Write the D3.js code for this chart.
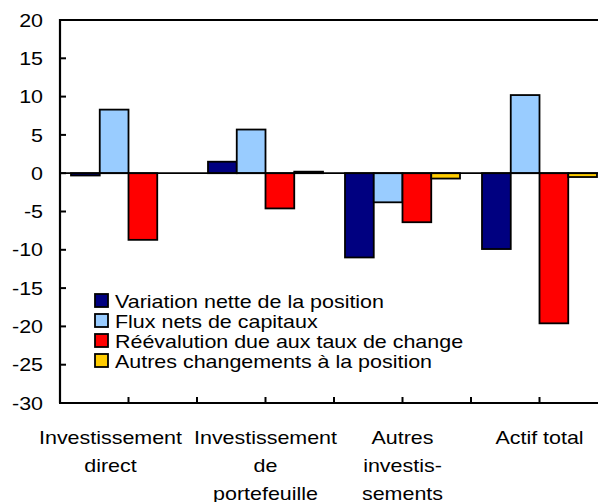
<!DOCTYPE html>
<html>
<head>
<meta charset="utf-8">
<script src="https://cdn.jsdelivr.net/npm/d3@7"></script>
<style>
  body { margin: 0; background: #fff; }
  text { font-family: "Liberation Sans", Arial, sans-serif; fill: #000; font-size: 18.5px; }
</style>
</head>
<body>
<svg id="chart" width="598" height="502"></svg>
<script>
// categories (each label split into lines) and series
var categories = ["Investissement direct", "Investissement de portefeuille", "Autres investissements", "Actif total"]
var catLines = [["Investissement", "direct"], ["Investissement", "de", "portefeuille"], ["Autres", "investis-", "sements"], ["Actif total"]]
var seriesNames = ["Variation nette de la position", "Flux nets de capitaux", "Réévalution due aux taux de change", "Autres changements à la position"]
var colors = ["#000080", "#99CCFF", "#FF0000", "#FFCC00"]

var variationNette = [-0.3, 1.5, -11.0, -9.9]
var fluxNets = [8.3, 5.7, -3.8, 10.2]
var reevaluation = [-8.7, -4.6, -6.4, -19.6]
var autresChangements = [0, 0.2, -0.7, -0.5]
var yTicks = [20, 15, 10, 5, 0, -5, -10, -15, -20, -25, -30]

var series = [variationNette, fluxNets, reevaluation, autresChangements]

var svg = d3.select("#chart")
var plotLeft = 60, plotRight = 608, plotTop = 20, plotBottom = 403
var sx = 1.16   // the reference font is drawn a bit wider than Arial

var y = d3.scaleLinear().domain([-30, 20]).range([plotBottom, plotTop])
var x0 = d3.scaleBand().domain(categories).range([plotLeft, plotRight]).paddingInner(0).paddingOuter(0)
var x1 = d3.scaleBand().domain(d3.range(4)).range([11, x0.bandwidth() - 11]).padding(0)

// bars
var groups = svg.selectAll("g.cat")
    .data(categories)
    .enter().append("g")
    .attr("class", "cat")
    .attr("transform", function(d) { return "translate(" + x0(d) + ",0)" })

groups.selectAll("rect")
    .data(function(d, ci) { return series.map(function(s, si) { return { si: si, v: s[ci] } }) })
    .enter().append("rect")
    .attr("x", function(d) { return x1(d.si) })
    .attr("width", x1.bandwidth())
    .attr("y", function(d) { return y(Math.max(0, d.v)) })
    .attr("height", function(d) { return Math.abs(y(d.v) - y(0)) })
    .style("fill", function(d) { return colors[d.si] })
    .style("stroke", "#000")
    .style("stroke-width", 1.8)
    .style("display", function(d) { return d.v == 0 ? "none" : null })

// zero line
svg.append("line")
    .attr("x1", plotLeft).attr("x2", plotRight)
    .attr("y1", y(0)).attr("y2", y(0))
    .style("stroke", "#000").style("stroke-width", 1.8)

// top frame line
svg.append("line")
    .attr("x1", plotLeft).attr("x2", plotRight)
    .attr("y1", plotTop).attr("y2", plotTop)
    .style("stroke", "#000").style("stroke-width", 2)

// y axis
svg.append("line")
    .attr("x1", plotLeft).attr("x2", plotLeft)
    .attr("y1", plotTop - 1).attr("y2", plotBottom)
    .style("stroke", "#000").style("stroke-width", 2.2)

svg.selectAll("line.ytick")
    .data(yTicks)
    .enter().append("line")
    .attr("class", "ytick")
    .attr("x1", plotLeft).attr("x2", plotLeft + 6)
    .attr("y1", function(d) { return y(d) }).attr("y2", function(d) { return y(d) })
    .style("stroke", "#000").style("stroke-width", 2)

svg.selectAll("text.ylab")
    .data(yTicks)
    .enter().append("text")
    .attr("class", "ylab")
    .attr("transform", function(d) { return "translate(43," + y(d) + ") scale(" + sx + ",1)" })
    .attr("dy", "0.36em")
    .attr("text-anchor", "end")
    .text(function(d) { return d })

// x axis
svg.append("line")
    .attr("x1", plotLeft - 1).attr("x2", plotRight)
    .attr("y1", plotBottom).attr("y2", plotBottom)
    .style("stroke", "#000").style("stroke-width", 2.2)

var halfTicks = []
categories.forEach(function(c) {
    halfTicks.push(x0(c) + x0.bandwidth() / 2)
    halfTicks.push(x0(c) + x0.bandwidth())
})

svg.selectAll("line.xtick")
    .data(halfTicks)
    .enter().append("line")
    .attr("class", "xtick")
    .attr("x1", function(d) { return d }).attr("x2", function(d) { return d })
    .attr("y1", plotBottom).attr("y2", plotBottom - 6)
    .style("stroke", "#000").style("stroke-width", 2)

var xl = svg.selectAll("text.xlab")
    .data(categories)
    .enter().append("text")
    .attr("class", "xlab")
    .attr("text-anchor", "middle")
    .attr("transform", function(d, i) {
        var cx = x0(d) + x0.bandwidth() / 2
        if (i == 0) { cx = cx - 18 }
        return "translate(" + cx + ",444) scale(" + sx + ",1)"
    })

xl.selectAll("tspan")
    .data(function(d, i) { return catLines[i] })
    .enter().append("tspan")
    .attr("x", 0)
    .attr("y", function(d, i) { return i * 28 })
    .text(function(d) { return d })

// legend
var legend = svg.selectAll("g.leg")
    .data(seriesNames)
    .enter().append("g")
    .attr("class", "leg")
    .attr("transform", function(d, i) { return "translate(95," + (294 + i * 20) + ")" })

legend.append("rect")
    .attr("width", 13).attr("height", 13)
    .style("fill", function(d, i) { return colors[i] })
    .style("stroke", "#000").style("stroke-width", 1.8)

legend.append("text")
    .attr("transform", "translate(20,7) scale(" + sx + ",1)")
    .attr("dy", "0.36em")
    .text(function(d) { return d })
</script>
</body>
</html>
